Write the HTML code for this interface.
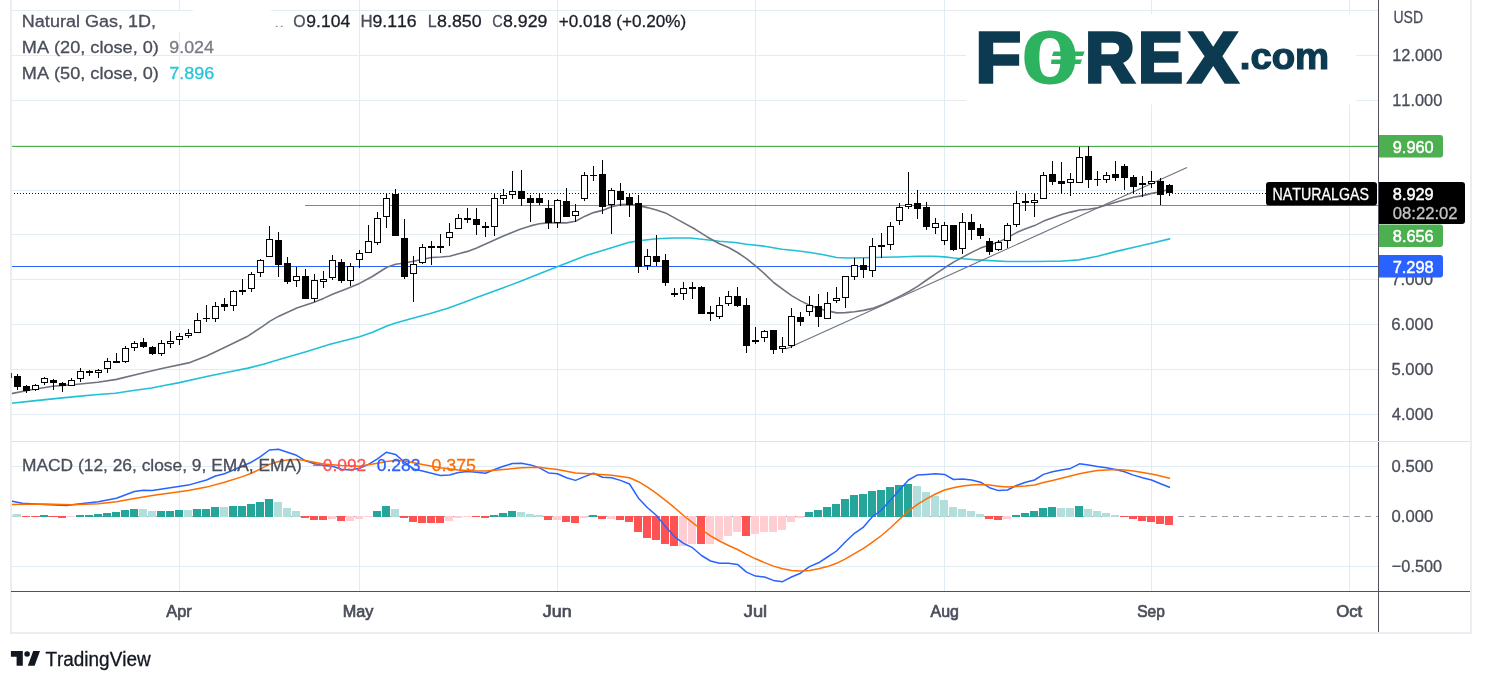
<!DOCTYPE html>
<html><head><meta charset="utf-8"><title>Natural Gas chart</title>
<style>html,body{margin:0;padding:0;background:#fff;overflow:hidden}svg{display:block}text{font-kerning:none}</style></head>
<body>
<svg width="1486" height="686" viewBox="0 0 1486 686" font-family='"Liberation Sans", "DejaVu Sans", sans-serif'>
<rect x="0" y="0" width="1486" height="686" fill="#ffffff"/>
<g shape-rendering="crispEdges">
<rect x="12" y="414" width="1366" height="1" fill="#e1ecf3"/>
<rect x="12" y="369" width="1366" height="1" fill="#e1ecf3"/>
<rect x="12" y="324" width="1366" height="1" fill="#e1ecf3"/>
<rect x="12" y="279" width="1366" height="1" fill="#e1ecf3"/>
<rect x="12" y="234" width="1366" height="1" fill="#e1ecf3"/>
<rect x="12" y="190" width="1366" height="1" fill="#e1ecf3"/>
<rect x="12" y="145" width="1366" height="1" fill="#e1ecf3"/>
<rect x="12" y="100" width="1366" height="1" fill="#e1ecf3"/>
<rect x="12" y="55" width="1366" height="1" fill="#e1ecf3"/>
<rect x="12" y="10" width="1366" height="1" fill="#e1ecf3"/>
<rect x="12" y="466" width="1366" height="1" fill="#e1ecf3"/>
<rect x="12" y="566" width="1366" height="1" fill="#e1ecf3"/>
<rect x="179" y="0" width="1" height="441" fill="#e1ecf3"/>
<rect x="179" y="442" width="1" height="149" fill="#e1ecf3"/>
<rect x="359" y="0" width="1" height="441" fill="#e1ecf3"/>
<rect x="359" y="442" width="1" height="149" fill="#e1ecf3"/>
<rect x="557" y="0" width="1" height="441" fill="#e1ecf3"/>
<rect x="557" y="442" width="1" height="149" fill="#e1ecf3"/>
<rect x="755" y="0" width="1" height="441" fill="#e1ecf3"/>
<rect x="755" y="442" width="1" height="149" fill="#e1ecf3"/>
<rect x="944" y="0" width="1" height="441" fill="#e1ecf3"/>
<rect x="944" y="442" width="1" height="149" fill="#e1ecf3"/>
<rect x="1151" y="0" width="1" height="441" fill="#e1ecf3"/>
<rect x="1151" y="442" width="1" height="149" fill="#e1ecf3"/>
<rect x="1349" y="0" width="1" height="441" fill="#e1ecf3"/>
<rect x="1349" y="442" width="1" height="149" fill="#e1ecf3"/>
</g>
<rect x="160" y="11" width="112" height="21" fill="#ffffff"/>
<rect x="193" y="9" width="78" height="3" fill="#ffffff"/>
<rect x="966" y="14" width="390" height="90.5" fill="#ffffff"/>
<g shape-rendering="crispEdges">
<rect x="12" y="146" width="1366" height="1" fill="#4caf50"/>
<rect x="305" y="205" width="1073" height="1" fill="#4caf50"/>
<rect x="12" y="266" width="1366" height="1" fill="#2962ff"/>
</g>
<line x1="11" y1="193.5" x2="1378" y2="193.5" stroke="#1a1a1a" stroke-width="1" stroke-dasharray="1 2" shape-rendering="crispEdges"/>
<line x1="12" y1="516.5" x2="1378" y2="516.5" stroke="#9aa0ab" stroke-width="1" stroke-dasharray="6 5" shape-rendering="crispEdges"/>
<g shape-rendering="crispEdges">
<rect x="13" y="514" width="8" height="3" fill="#b2dfdb"/>
<rect x="22" y="516" width="8" height="1" fill="#ff5252"/>
<rect x="31" y="516" width="8" height="1" fill="#ff5252"/>
<rect x="40" y="515" width="8" height="2" fill="#26a69a"/>
<rect x="49" y="516" width="8" height="1" fill="#ff5252"/>
<rect x="58" y="516" width="8" height="2" fill="#ff5252"/>
<rect x="67" y="516" width="8" height="1" fill="#ffcdd2"/>
<rect x="76" y="515" width="8" height="2" fill="#26a69a"/>
<rect x="85" y="515" width="8" height="2" fill="#26a69a"/>
<rect x="94" y="514" width="8" height="3" fill="#26a69a"/>
<rect x="103" y="513" width="8" height="4" fill="#26a69a"/>
<rect x="112" y="512" width="8" height="5" fill="#26a69a"/>
<rect x="121" y="510" width="8" height="7" fill="#26a69a"/>
<rect x="130" y="509" width="8" height="8" fill="#26a69a"/>
<rect x="139" y="509" width="8" height="8" fill="#b2dfdb"/>
<rect x="148" y="511" width="8" height="6" fill="#b2dfdb"/>
<rect x="157" y="511" width="8" height="6" fill="#26a69a"/>
<rect x="166" y="511" width="8" height="6" fill="#26a69a"/>
<rect x="175" y="510" width="8" height="7" fill="#26a69a"/>
<rect x="184" y="510" width="8" height="7" fill="#b2dfdb"/>
<rect x="193" y="509" width="8" height="8" fill="#26a69a"/>
<rect x="202" y="509" width="8" height="8" fill="#26a69a"/>
<rect x="211" y="507" width="8" height="10" fill="#26a69a"/>
<rect x="220" y="507" width="8" height="10" fill="#b2dfdb"/>
<rect x="229" y="506" width="8" height="11" fill="#26a69a"/>
<rect x="238" y="506" width="8" height="11" fill="#26a69a"/>
<rect x="247" y="504" width="8" height="13" fill="#26a69a"/>
<rect x="256" y="502" width="8" height="15" fill="#26a69a"/>
<rect x="265" y="499" width="8" height="18" fill="#26a69a"/>
<rect x="274" y="502" width="8" height="15" fill="#b2dfdb"/>
<rect x="283" y="508" width="8" height="9" fill="#b2dfdb"/>
<rect x="292" y="511" width="8" height="6" fill="#b2dfdb"/>
<rect x="301" y="516" width="8" height="2" fill="#ff5252"/>
<rect x="310" y="516" width="8" height="4" fill="#ff5252"/>
<rect x="319" y="516" width="8" height="4" fill="#ff5252"/>
<rect x="328" y="516" width="8" height="3" fill="#ffcdd2"/>
<rect x="337" y="516" width="8" height="5" fill="#ff5252"/>
<rect x="346" y="516" width="8" height="5" fill="#ffcdd2"/>
<rect x="355" y="516" width="8" height="3" fill="#ffcdd2"/>
<rect x="364" y="516" width="8" height="1" fill="#ffcdd2"/>
<rect x="373" y="511" width="8" height="6" fill="#26a69a"/>
<rect x="382" y="506" width="8" height="11" fill="#26a69a"/>
<rect x="391" y="509" width="8" height="8" fill="#b2dfdb"/>
<rect x="400" y="516" width="8" height="2" fill="#ff5252"/>
<rect x="409" y="516" width="8" height="6" fill="#ff5252"/>
<rect x="418" y="516" width="8" height="7" fill="#ff5252"/>
<rect x="427" y="516" width="8" height="7" fill="#ff5252"/>
<rect x="436" y="516" width="8" height="7" fill="#ff5252"/>
<rect x="445" y="516" width="8" height="5" fill="#ffcdd2"/>
<rect x="454" y="516" width="8" height="2" fill="#ffcdd2"/>
<rect x="463" y="516" width="8" height="1" fill="#ffcdd2"/>
<rect x="472" y="516" width="8" height="1" fill="#ff5252"/>
<rect x="481" y="516" width="8" height="2" fill="#ff5252"/>
<rect x="490" y="515" width="8" height="2" fill="#26a69a"/>
<rect x="499" y="513" width="8" height="4" fill="#26a69a"/>
<rect x="508" y="511" width="8" height="6" fill="#26a69a"/>
<rect x="517" y="512" width="8" height="5" fill="#b2dfdb"/>
<rect x="526" y="514" width="8" height="3" fill="#b2dfdb"/>
<rect x="535" y="515" width="8" height="2" fill="#b2dfdb"/>
<rect x="544" y="516" width="8" height="4" fill="#ff5252"/>
<rect x="553" y="516" width="8" height="4" fill="#ffcdd2"/>
<rect x="562" y="516" width="8" height="6" fill="#ff5252"/>
<rect x="571" y="516" width="8" height="7" fill="#ff5252"/>
<rect x="580" y="516" width="8" height="2" fill="#ffcdd2"/>
<rect x="589" y="515" width="8" height="2" fill="#26a69a"/>
<rect x="598" y="516" width="8" height="3" fill="#ff5252"/>
<rect x="607" y="516" width="8" height="3" fill="#ffcdd2"/>
<rect x="616" y="516" width="8" height="4" fill="#ff5252"/>
<rect x="625" y="516" width="8" height="6" fill="#ff5252"/>
<rect x="634" y="516" width="8" height="16" fill="#ff5252"/>
<rect x="643" y="516" width="8" height="22" fill="#ff5252"/>
<rect x="652" y="516" width="8" height="24" fill="#ff5252"/>
<rect x="661" y="516" width="8" height="28" fill="#ff5252"/>
<rect x="670" y="516" width="8" height="30" fill="#ff5252"/>
<rect x="679" y="516" width="8" height="30" fill="#ffcdd2"/>
<rect x="688" y="516" width="8" height="28" fill="#ffcdd2"/>
<rect x="697" y="516" width="8" height="28" fill="#ff5252"/>
<rect x="706" y="516" width="8" height="28" fill="#ffcdd2"/>
<rect x="715" y="516" width="8" height="24" fill="#ffcdd2"/>
<rect x="724" y="516" width="8" height="20" fill="#ffcdd2"/>
<rect x="733" y="516" width="8" height="16" fill="#ffcdd2"/>
<rect x="742" y="516" width="8" height="20" fill="#ff5252"/>
<rect x="751" y="516" width="8" height="18" fill="#ffcdd2"/>
<rect x="760" y="516" width="8" height="16" fill="#ffcdd2"/>
<rect x="769" y="516" width="8" height="16" fill="#ffcdd2"/>
<rect x="778" y="516" width="8" height="14" fill="#ffcdd2"/>
<rect x="787" y="516" width="8" height="6" fill="#ffcdd2"/>
<rect x="796" y="516" width="8" height="2" fill="#ffcdd2"/>
<rect x="805" y="512" width="8" height="5" fill="#26a69a"/>
<rect x="814" y="510" width="8" height="7" fill="#26a69a"/>
<rect x="823" y="507" width="8" height="10" fill="#26a69a"/>
<rect x="832" y="504" width="8" height="13" fill="#26a69a"/>
<rect x="841" y="499" width="8" height="18" fill="#26a69a"/>
<rect x="850" y="495" width="8" height="22" fill="#26a69a"/>
<rect x="859" y="494" width="8" height="23" fill="#26a69a"/>
<rect x="868" y="491" width="8" height="26" fill="#26a69a"/>
<rect x="877" y="490" width="8" height="27" fill="#26a69a"/>
<rect x="886" y="487" width="8" height="30" fill="#26a69a"/>
<rect x="895" y="485" width="8" height="32" fill="#26a69a"/>
<rect x="904" y="484" width="8" height="33" fill="#26a69a"/>
<rect x="913" y="486" width="8" height="31" fill="#b2dfdb"/>
<rect x="922" y="492" width="8" height="25" fill="#b2dfdb"/>
<rect x="931" y="496" width="8" height="21" fill="#b2dfdb"/>
<rect x="940" y="500" width="8" height="17" fill="#b2dfdb"/>
<rect x="949" y="507" width="8" height="10" fill="#b2dfdb"/>
<rect x="958" y="509" width="8" height="8" fill="#b2dfdb"/>
<rect x="967" y="511" width="8" height="6" fill="#b2dfdb"/>
<rect x="976" y="514" width="8" height="3" fill="#b2dfdb"/>
<rect x="985" y="516" width="8" height="3" fill="#ff5252"/>
<rect x="994" y="516" width="8" height="4" fill="#ff5252"/>
<rect x="1003" y="516" width="8" height="3" fill="#ffcdd2"/>
<rect x="1012" y="515" width="8" height="2" fill="#26a69a"/>
<rect x="1021" y="513" width="8" height="4" fill="#26a69a"/>
<rect x="1030" y="511" width="8" height="6" fill="#26a69a"/>
<rect x="1039" y="508" width="8" height="9" fill="#26a69a"/>
<rect x="1048" y="507" width="8" height="10" fill="#26a69a"/>
<rect x="1057" y="508" width="8" height="9" fill="#b2dfdb"/>
<rect x="1066" y="508" width="8" height="9" fill="#b2dfdb"/>
<rect x="1075" y="506" width="8" height="11" fill="#26a69a"/>
<rect x="1084" y="509" width="8" height="8" fill="#b2dfdb"/>
<rect x="1093" y="511" width="8" height="6" fill="#b2dfdb"/>
<rect x="1102" y="513" width="8" height="4" fill="#b2dfdb"/>
<rect x="1111" y="515" width="8" height="2" fill="#b2dfdb"/>
<rect x="1120" y="516" width="8" height="1" fill="#ff5252"/>
<rect x="1129" y="516" width="8" height="3" fill="#ff5252"/>
<rect x="1138" y="516" width="8" height="5" fill="#ff5252"/>
<rect x="1147" y="516" width="8" height="6" fill="#ff5252"/>
<rect x="1156" y="516" width="8" height="8" fill="#ff5252"/>
<rect x="1165" y="516" width="8" height="9" fill="#ff5252"/>
<rect x="12" y="515" width="1" height="2" fill="#b2dfdb"/>
</g>
<polyline points="11.3,403.3 31.3,401.1 52.6,398.9 75.2,396.6 97.7,394.5 115.3,393.2 131.6,390.7 151.6,388 162.9,385.7 179.4,382.6 206.6,376.5 233.6,371 248,368.1 264.2,364 280.1,359.3 306.8,351.5 330.1,344.3 359.5,336.8 371.9,332.6 386.9,325.9 395.6,323.1 413.6,318.1 430.3,313.4 447,308.4 463.6,302.6 478,297.1 500,289 520,281.5 540,273.5 564.3,264 586.8,255.3 606.7,249.2 628.4,242.5 638.6,240.8 656.8,238.7 673.4,238 690.1,238 706.8,239.7 719.5,241.3 735.2,242.5 746.5,244.2 764.6,246.2 781.9,249.2 796.8,250.8 810.1,252.5 823.5,254.7 836.5,257.5 846.8,258 863.5,257.8 883.4,257.2 896.9,257 916.8,256.3 933.4,256.2 944.6,256.9 953.6,258 962.7,258.8 980.5,260.1 1007.5,261.5 1034.6,261.5 1052.6,261.3 1060,261.3 1078.8,259.9 1097.6,256.2 1116.4,251.4 1135.2,247 1151.5,243.3 1169.6,238.9" fill="none" stroke="#20c0d6" stroke-width="1.6" stroke-linejoin="round" stroke-linecap="round"/>
<polyline points="11.3,393.6 31.3,389.8 52.6,386.3 75.2,384.5 97.7,382.3 116.5,379.4 141.6,373.2 162.9,368.2 188.6,362.9 206.6,355.9 224.5,347.6 246.7,336.8 263.4,325.9 269.6,321.4 278.4,316.4 296.8,308.1 313.4,302.6 323.5,298.4 332.5,294.2 346.8,288.7 359.5,283.4 371.9,276.7 386.9,267.2 395.6,264.2 404.6,263 413.6,261.3 422.6,259.2 431.6,257.5 440.6,257 449.6,256.3 458.6,253.7 467.6,251.4 476.7,247.9 486.7,243.5 503.4,235.9 520.1,229.3 530.4,225.9 539.4,223.8 548.4,222.9 557.5,222.6 566.5,222.9 575.5,221.3 584.5,216.4 593.5,212.6 602.5,210.4 611.5,206.7 620.5,204.6 629.5,204.2 638.6,205.6 647.4,207.6 656.4,210.1 665.4,212.9 678.6,220.1 695.3,229.3 706.8,236.7 719.5,243.7 728.5,247.5 737.5,252.5 746.5,258.7 755.5,265.8 764.6,273.8 773.6,282.5 782.6,289.2 791.6,295.6 800.6,300.9 809.6,305.2 818.6,308.4 827.6,310.9 836.7,312.9 845.5,312.6 854.5,311.7 863.5,310.4 872.5,308.4 881.5,305.1 890.5,300.9 899.6,296.4 908.6,291.7 917.6,286.4 926.6,280 935.6,273.9 944.6,267.8 953.6,262.1 962.7,257.1 971.7,252.4 980.5,248.1 989.5,245.1 998.5,242.1 1007.5,237.6 1016.6,232.6 1025.6,228.8 1034.6,225.6 1043.6,221.1 1052.6,217.8 1061.6,214.6 1070.6,212.1 1079.6,210 1088.6,209.2 1097.6,207.8 1106.6,205.1 1115.6,202.3 1124.6,199.8 1133.6,197.3 1142.7,195.6 1151.7,193.4 1160.5,191.8 1169.5,189.2" fill="none" stroke="#70737f" stroke-width="1.6" stroke-linejoin="round" stroke-linecap="round"/>
<line x1="786" y1="349" x2="1187" y2="167.5" stroke="#70737f" stroke-width="1.1"/>
<g shape-rendering="crispEdges">
<rect x="17" y="374" width="1" height="16" fill="#000"/>
<rect x="14" y="376" width="7" height="11" fill="#000"/>
<rect x="26" y="385" width="1" height="8" fill="#000"/>
<rect x="23" y="386" width="7" height="5" fill="#000"/>
<rect x="35" y="384" width="1" height="7" fill="#000"/>
<rect x="32" y="385" width="7" height="5" fill="#000"/>
<rect x="33" y="386" width="5" height="3" fill="#fff"/>
<rect x="44" y="377" width="1" height="8" fill="#000"/>
<rect x="41" y="378" width="7" height="5" fill="#000"/>
<rect x="42" y="379" width="5" height="3" fill="#fff"/>
<rect x="53" y="379" width="1" height="11" fill="#000"/>
<rect x="50" y="380" width="7" height="3" fill="#000"/>
<rect x="62" y="382" width="1" height="10" fill="#000"/>
<rect x="59" y="383" width="7" height="3" fill="#000"/>
<rect x="71" y="378" width="1" height="8" fill="#000"/>
<rect x="68" y="380" width="7" height="6" fill="#000"/>
<rect x="69" y="381" width="5" height="4" fill="#fff"/>
<rect x="80" y="368" width="1" height="14" fill="#000"/>
<rect x="77" y="371" width="7" height="8" fill="#000"/>
<rect x="78" y="372" width="5" height="6" fill="#fff"/>
<rect x="89" y="370" width="1" height="6" fill="#000"/>
<rect x="86" y="371" width="7" height="2" fill="#000"/>
<rect x="98" y="369" width="1" height="9" fill="#000"/>
<rect x="95" y="370" width="7" height="3" fill="#000"/>
<rect x="96" y="371" width="5" height="1" fill="#fff"/>
<rect x="107" y="358" width="1" height="15" fill="#000"/>
<rect x="104" y="361" width="7" height="8" fill="#000"/>
<rect x="105" y="362" width="5" height="6" fill="#fff"/>
<rect x="116" y="353" width="1" height="10" fill="#000"/>
<rect x="113" y="361" width="7" height="2" fill="#000"/>
<rect x="125" y="346" width="1" height="17" fill="#000"/>
<rect x="122" y="348" width="7" height="14" fill="#000"/>
<rect x="123" y="349" width="5" height="12" fill="#fff"/>
<rect x="134" y="341" width="1" height="10" fill="#000"/>
<rect x="131" y="343" width="7" height="5" fill="#000"/>
<rect x="132" y="344" width="5" height="3" fill="#fff"/>
<rect x="143" y="338" width="1" height="10" fill="#000"/>
<rect x="140" y="342" width="7" height="5" fill="#000"/>
<rect x="152" y="346" width="1" height="9" fill="#000"/>
<rect x="149" y="347" width="7" height="7" fill="#000"/>
<rect x="161" y="340" width="1" height="16" fill="#000"/>
<rect x="158" y="343" width="7" height="11" fill="#000"/>
<rect x="159" y="344" width="5" height="9" fill="#fff"/>
<rect x="170" y="331" width="1" height="17" fill="#000"/>
<rect x="167" y="341" width="7" height="3" fill="#000"/>
<rect x="168" y="342" width="5" height="1" fill="#fff"/>
<rect x="179" y="333" width="1" height="12" fill="#000"/>
<rect x="176" y="336" width="7" height="4" fill="#000"/>
<rect x="177" y="337" width="5" height="2" fill="#fff"/>
<rect x="188" y="329" width="1" height="9" fill="#000"/>
<rect x="185" y="333" width="7" height="3" fill="#000"/>
<rect x="186" y="334" width="5" height="1" fill="#fff"/>
<rect x="197" y="313" width="1" height="19" fill="#000"/>
<rect x="194" y="320" width="7" height="13" fill="#000"/>
<rect x="195" y="321" width="5" height="11" fill="#fff"/>
<rect x="206" y="305" width="1" height="17" fill="#000"/>
<rect x="203" y="318" width="7" height="1" fill="#000"/>
<rect x="215" y="302" width="1" height="20" fill="#000"/>
<rect x="212" y="306" width="7" height="13" fill="#000"/>
<rect x="213" y="307" width="5" height="11" fill="#fff"/>
<rect x="224" y="298" width="1" height="13" fill="#000"/>
<rect x="221" y="304" width="7" height="3" fill="#000"/>
<rect x="233" y="290" width="1" height="21" fill="#000"/>
<rect x="230" y="291" width="7" height="15" fill="#000"/>
<rect x="231" y="292" width="5" height="13" fill="#fff"/>
<rect x="242" y="279" width="1" height="16" fill="#000"/>
<rect x="239" y="290" width="7" height="2" fill="#000"/>
<rect x="251" y="272" width="1" height="20" fill="#000"/>
<rect x="248" y="274" width="7" height="15" fill="#000"/>
<rect x="249" y="275" width="5" height="13" fill="#fff"/>
<rect x="260" y="259" width="1" height="18" fill="#000"/>
<rect x="257" y="260" width="7" height="13" fill="#000"/>
<rect x="258" y="261" width="5" height="11" fill="#fff"/>
<rect x="269" y="226" width="1" height="31" fill="#000"/>
<rect x="266" y="239" width="7" height="18" fill="#000"/>
<rect x="267" y="240" width="5" height="16" fill="#fff"/>
<rect x="278" y="232" width="1" height="45" fill="#000"/>
<rect x="275" y="240" width="7" height="25" fill="#000"/>
<rect x="287" y="257" width="1" height="27" fill="#000"/>
<rect x="284" y="263" width="7" height="19" fill="#000"/>
<rect x="296" y="267" width="1" height="20" fill="#000"/>
<rect x="293" y="276" width="7" height="5" fill="#000"/>
<rect x="294" y="277" width="5" height="3" fill="#fff"/>
<rect x="305" y="269" width="1" height="30" fill="#000"/>
<rect x="302" y="276" width="7" height="23" fill="#000"/>
<rect x="314" y="274" width="1" height="28" fill="#000"/>
<rect x="311" y="280" width="7" height="19" fill="#000"/>
<rect x="312" y="281" width="5" height="17" fill="#fff"/>
<rect x="323" y="271" width="1" height="17" fill="#000"/>
<rect x="320" y="279" width="7" height="3" fill="#000"/>
<rect x="321" y="280" width="5" height="1" fill="#fff"/>
<rect x="332" y="255" width="1" height="25" fill="#000"/>
<rect x="329" y="260" width="7" height="18" fill="#000"/>
<rect x="330" y="261" width="5" height="16" fill="#fff"/>
<rect x="341" y="259" width="1" height="24" fill="#000"/>
<rect x="338" y="262" width="7" height="19" fill="#000"/>
<rect x="350" y="263" width="1" height="23" fill="#000"/>
<rect x="347" y="266" width="7" height="15" fill="#000"/>
<rect x="348" y="267" width="5" height="13" fill="#fff"/>
<rect x="359" y="250" width="1" height="18" fill="#000"/>
<rect x="356" y="253" width="7" height="7" fill="#000"/>
<rect x="357" y="254" width="5" height="5" fill="#fff"/>
<rect x="368" y="225" width="1" height="28" fill="#000"/>
<rect x="365" y="241" width="7" height="12" fill="#000"/>
<rect x="366" y="242" width="5" height="10" fill="#fff"/>
<rect x="377" y="212" width="1" height="33" fill="#000"/>
<rect x="374" y="218" width="7" height="25" fill="#000"/>
<rect x="375" y="219" width="5" height="23" fill="#fff"/>
<rect x="386" y="193" width="1" height="35" fill="#000"/>
<rect x="383" y="198" width="7" height="19" fill="#000"/>
<rect x="384" y="199" width="5" height="17" fill="#fff"/>
<rect x="395" y="189" width="1" height="47" fill="#000"/>
<rect x="392" y="194" width="7" height="42" fill="#000"/>
<rect x="404" y="219" width="1" height="60" fill="#000"/>
<rect x="401" y="238" width="7" height="39" fill="#000"/>
<rect x="413" y="256" width="1" height="46" fill="#000"/>
<rect x="410" y="264" width="7" height="10" fill="#000"/>
<rect x="411" y="265" width="5" height="8" fill="#fff"/>
<rect x="422" y="244" width="1" height="20" fill="#000"/>
<rect x="419" y="247" width="7" height="16" fill="#000"/>
<rect x="420" y="248" width="5" height="14" fill="#fff"/>
<rect x="431" y="241" width="1" height="24" fill="#000"/>
<rect x="428" y="246" width="7" height="2" fill="#000"/>
<rect x="440" y="234" width="1" height="19" fill="#000"/>
<rect x="437" y="246" width="7" height="2" fill="#000"/>
<rect x="449" y="223" width="1" height="23" fill="#000"/>
<rect x="446" y="232" width="7" height="6" fill="#000"/>
<rect x="447" y="233" width="5" height="4" fill="#fff"/>
<rect x="458" y="214" width="1" height="15" fill="#000"/>
<rect x="455" y="218" width="7" height="11" fill="#000"/>
<rect x="456" y="219" width="5" height="9" fill="#fff"/>
<rect x="467" y="208" width="1" height="15" fill="#000"/>
<rect x="464" y="218" width="7" height="2" fill="#000"/>
<rect x="476" y="208" width="1" height="27" fill="#000"/>
<rect x="473" y="219" width="7" height="6" fill="#000"/>
<rect x="485" y="222" width="1" height="15" fill="#000"/>
<rect x="482" y="226" width="7" height="2" fill="#000"/>
<rect x="494" y="193" width="1" height="43" fill="#000"/>
<rect x="491" y="198" width="7" height="29" fill="#000"/>
<rect x="492" y="199" width="5" height="27" fill="#fff"/>
<rect x="503" y="189" width="1" height="15" fill="#000"/>
<rect x="500" y="195" width="7" height="4" fill="#000"/>
<rect x="501" y="196" width="5" height="2" fill="#fff"/>
<rect x="512" y="171" width="1" height="28" fill="#000"/>
<rect x="509" y="191" width="7" height="4" fill="#000"/>
<rect x="510" y="192" width="5" height="2" fill="#fff"/>
<rect x="521" y="170" width="1" height="36" fill="#000"/>
<rect x="518" y="191" width="7" height="8" fill="#000"/>
<rect x="530" y="195" width="1" height="27" fill="#000"/>
<rect x="527" y="198" width="7" height="5" fill="#000"/>
<rect x="539" y="193" width="1" height="12" fill="#000"/>
<rect x="536" y="198" width="7" height="5" fill="#000"/>
<rect x="548" y="200" width="1" height="29" fill="#000"/>
<rect x="545" y="208" width="7" height="15" fill="#000"/>
<rect x="557" y="199" width="1" height="29" fill="#000"/>
<rect x="554" y="200" width="7" height="23" fill="#000"/>
<rect x="555" y="201" width="5" height="21" fill="#fff"/>
<rect x="566" y="188" width="1" height="29" fill="#000"/>
<rect x="563" y="201" width="7" height="16" fill="#000"/>
<rect x="575" y="204" width="1" height="18" fill="#000"/>
<rect x="572" y="211" width="7" height="5" fill="#000"/>
<rect x="573" y="212" width="5" height="3" fill="#fff"/>
<rect x="584" y="172" width="1" height="29" fill="#000"/>
<rect x="581" y="175" width="7" height="24" fill="#000"/>
<rect x="582" y="176" width="5" height="22" fill="#fff"/>
<rect x="593" y="166" width="1" height="15" fill="#000"/>
<rect x="590" y="175" width="7" height="1" fill="#000"/>
<rect x="602" y="160" width="1" height="54" fill="#000"/>
<rect x="599" y="174" width="7" height="33" fill="#000"/>
<rect x="611" y="188" width="1" height="46" fill="#000"/>
<rect x="608" y="190" width="7" height="15" fill="#000"/>
<rect x="609" y="191" width="5" height="13" fill="#fff"/>
<rect x="620" y="183" width="1" height="23" fill="#000"/>
<rect x="617" y="191" width="7" height="9" fill="#000"/>
<rect x="629" y="193" width="1" height="24" fill="#000"/>
<rect x="626" y="197" width="7" height="8" fill="#000"/>
<rect x="638" y="195" width="1" height="78" fill="#000"/>
<rect x="635" y="203" width="7" height="64" fill="#000"/>
<rect x="647" y="249" width="1" height="21" fill="#000"/>
<rect x="644" y="256" width="7" height="10" fill="#000"/>
<rect x="645" y="257" width="5" height="8" fill="#fff"/>
<rect x="656" y="235" width="1" height="31" fill="#000"/>
<rect x="653" y="256" width="7" height="6" fill="#000"/>
<rect x="665" y="254" width="1" height="32" fill="#000"/>
<rect x="662" y="260" width="7" height="23" fill="#000"/>
<rect x="674" y="288" width="1" height="9" fill="#000"/>
<rect x="671" y="293" width="7" height="2" fill="#000"/>
<rect x="683" y="282" width="1" height="18" fill="#000"/>
<rect x="680" y="288" width="7" height="6" fill="#000"/>
<rect x="681" y="289" width="5" height="4" fill="#fff"/>
<rect x="692" y="282" width="1" height="17" fill="#000"/>
<rect x="689" y="287" width="7" height="2" fill="#000"/>
<rect x="701" y="286" width="1" height="28" fill="#000"/>
<rect x="698" y="287" width="7" height="27" fill="#000"/>
<rect x="710" y="306" width="1" height="15" fill="#000"/>
<rect x="707" y="312" width="7" height="2" fill="#000"/>
<rect x="719" y="297" width="1" height="22" fill="#000"/>
<rect x="716" y="305" width="7" height="12" fill="#000"/>
<rect x="717" y="306" width="5" height="10" fill="#fff"/>
<rect x="728" y="291" width="1" height="15" fill="#000"/>
<rect x="725" y="296" width="7" height="8" fill="#000"/>
<rect x="726" y="297" width="5" height="6" fill="#fff"/>
<rect x="737" y="287" width="1" height="20" fill="#000"/>
<rect x="734" y="296" width="7" height="10" fill="#000"/>
<rect x="746" y="298" width="1" height="55" fill="#000"/>
<rect x="743" y="305" width="7" height="41" fill="#000"/>
<rect x="755" y="327" width="1" height="17" fill="#000"/>
<rect x="752" y="340" width="7" height="2" fill="#000"/>
<rect x="764" y="330" width="1" height="12" fill="#000"/>
<rect x="761" y="331" width="7" height="7" fill="#000"/>
<rect x="762" y="332" width="5" height="5" fill="#fff"/>
<rect x="773" y="330" width="1" height="24" fill="#000"/>
<rect x="770" y="330" width="7" height="20" fill="#000"/>
<rect x="782" y="337" width="1" height="16" fill="#000"/>
<rect x="779" y="346" width="7" height="3" fill="#000"/>
<rect x="780" y="347" width="5" height="1" fill="#fff"/>
<rect x="791" y="308" width="1" height="40" fill="#000"/>
<rect x="788" y="316" width="7" height="30" fill="#000"/>
<rect x="789" y="317" width="5" height="28" fill="#fff"/>
<rect x="800" y="312" width="1" height="14" fill="#000"/>
<rect x="797" y="317" width="7" height="5" fill="#000"/>
<rect x="809" y="296" width="1" height="20" fill="#000"/>
<rect x="806" y="305" width="7" height="7" fill="#000"/>
<rect x="807" y="306" width="5" height="5" fill="#fff"/>
<rect x="818" y="294" width="1" height="33" fill="#000"/>
<rect x="815" y="306" width="7" height="11" fill="#000"/>
<rect x="827" y="292" width="1" height="27" fill="#000"/>
<rect x="824" y="303" width="7" height="16" fill="#000"/>
<rect x="825" y="304" width="5" height="14" fill="#fff"/>
<rect x="836" y="287" width="1" height="16" fill="#000"/>
<rect x="833" y="298" width="7" height="3" fill="#000"/>
<rect x="834" y="299" width="5" height="1" fill="#fff"/>
<rect x="845" y="276" width="1" height="32" fill="#000"/>
<rect x="842" y="276" width="7" height="22" fill="#000"/>
<rect x="843" y="277" width="5" height="20" fill="#fff"/>
<rect x="854" y="258" width="1" height="22" fill="#000"/>
<rect x="851" y="265" width="7" height="12" fill="#000"/>
<rect x="852" y="266" width="5" height="10" fill="#fff"/>
<rect x="863" y="258" width="1" height="20" fill="#000"/>
<rect x="860" y="265" width="7" height="5" fill="#000"/>
<rect x="872" y="238" width="1" height="39" fill="#000"/>
<rect x="869" y="246" width="7" height="25" fill="#000"/>
<rect x="870" y="247" width="5" height="23" fill="#fff"/>
<rect x="881" y="233" width="1" height="25" fill="#000"/>
<rect x="878" y="245" width="7" height="2" fill="#000"/>
<rect x="890" y="222" width="1" height="28" fill="#000"/>
<rect x="887" y="226" width="7" height="19" fill="#000"/>
<rect x="888" y="227" width="5" height="17" fill="#fff"/>
<rect x="899" y="203" width="1" height="22" fill="#000"/>
<rect x="896" y="207" width="7" height="14" fill="#000"/>
<rect x="897" y="208" width="5" height="12" fill="#fff"/>
<rect x="908" y="172" width="1" height="37" fill="#000"/>
<rect x="905" y="204" width="7" height="3" fill="#000"/>
<rect x="906" y="205" width="5" height="1" fill="#fff"/>
<rect x="917" y="190" width="1" height="29" fill="#000"/>
<rect x="914" y="203" width="7" height="6" fill="#000"/>
<rect x="926" y="202" width="1" height="28" fill="#000"/>
<rect x="923" y="207" width="7" height="20" fill="#000"/>
<rect x="935" y="218" width="1" height="16" fill="#000"/>
<rect x="932" y="223" width="7" height="5" fill="#000"/>
<rect x="933" y="224" width="5" height="3" fill="#fff"/>
<rect x="944" y="222" width="1" height="23" fill="#000"/>
<rect x="941" y="225" width="7" height="16" fill="#000"/>
<rect x="942" y="226" width="5" height="14" fill="#fff"/>
<rect x="953" y="225" width="1" height="26" fill="#000"/>
<rect x="950" y="225" width="7" height="25" fill="#000"/>
<rect x="962" y="213" width="1" height="41" fill="#000"/>
<rect x="959" y="222" width="7" height="27" fill="#000"/>
<rect x="960" y="223" width="5" height="25" fill="#fff"/>
<rect x="971" y="214" width="1" height="26" fill="#000"/>
<rect x="968" y="222" width="7" height="8" fill="#000"/>
<rect x="980" y="224" width="1" height="15" fill="#000"/>
<rect x="977" y="228" width="7" height="8" fill="#000"/>
<rect x="989" y="238" width="1" height="17" fill="#000"/>
<rect x="986" y="241" width="7" height="11" fill="#000"/>
<rect x="998" y="240" width="1" height="11" fill="#000"/>
<rect x="995" y="242" width="7" height="8" fill="#000"/>
<rect x="996" y="243" width="5" height="6" fill="#fff"/>
<rect x="1007" y="223" width="1" height="25" fill="#000"/>
<rect x="1004" y="225" width="7" height="16" fill="#000"/>
<rect x="1005" y="226" width="5" height="14" fill="#fff"/>
<rect x="1016" y="191" width="1" height="36" fill="#000"/>
<rect x="1013" y="203" width="7" height="22" fill="#000"/>
<rect x="1014" y="204" width="5" height="20" fill="#fff"/>
<rect x="1025" y="193" width="1" height="18" fill="#000"/>
<rect x="1022" y="201" width="7" height="2" fill="#000"/>
<rect x="1034" y="193" width="1" height="24" fill="#000"/>
<rect x="1031" y="200" width="7" height="3" fill="#000"/>
<rect x="1032" y="201" width="5" height="1" fill="#fff"/>
<rect x="1043" y="172" width="1" height="27" fill="#000"/>
<rect x="1040" y="175" width="7" height="24" fill="#000"/>
<rect x="1041" y="176" width="5" height="22" fill="#fff"/>
<rect x="1052" y="161" width="1" height="24" fill="#000"/>
<rect x="1049" y="174" width="7" height="8" fill="#000"/>
<rect x="1061" y="162" width="1" height="32" fill="#000"/>
<rect x="1058" y="181" width="7" height="3" fill="#000"/>
<rect x="1070" y="173" width="1" height="23" fill="#000"/>
<rect x="1067" y="179" width="7" height="4" fill="#000"/>
<rect x="1068" y="180" width="5" height="2" fill="#fff"/>
<rect x="1079" y="147" width="1" height="36" fill="#000"/>
<rect x="1076" y="157" width="7" height="26" fill="#000"/>
<rect x="1077" y="158" width="5" height="24" fill="#fff"/>
<rect x="1088" y="146" width="1" height="42" fill="#000"/>
<rect x="1085" y="156" width="7" height="24" fill="#000"/>
<rect x="1097" y="171" width="1" height="15" fill="#000"/>
<rect x="1094" y="179" width="7" height="1" fill="#000"/>
<rect x="1106" y="172" width="1" height="11" fill="#000"/>
<rect x="1103" y="175" width="7" height="5" fill="#000"/>
<rect x="1104" y="176" width="5" height="3" fill="#fff"/>
<rect x="1115" y="161" width="1" height="20" fill="#000"/>
<rect x="1112" y="174" width="7" height="4" fill="#000"/>
<rect x="1124" y="164" width="1" height="26" fill="#000"/>
<rect x="1121" y="166" width="7" height="12" fill="#000"/>
<rect x="1133" y="175" width="1" height="19" fill="#000"/>
<rect x="1130" y="177" width="7" height="10" fill="#000"/>
<rect x="1142" y="176" width="1" height="21" fill="#000"/>
<rect x="1139" y="183" width="7" height="2" fill="#000"/>
<rect x="1151" y="171" width="1" height="17" fill="#000"/>
<rect x="1148" y="181" width="7" height="3" fill="#000"/>
<rect x="1149" y="182" width="5" height="1" fill="#fff"/>
<rect x="1160" y="178" width="1" height="27" fill="#000"/>
<rect x="1157" y="181" width="7" height="14" fill="#000"/>
<rect x="1169" y="184" width="1" height="12" fill="#000"/>
<rect x="1166" y="185" width="7" height="8" fill="#000"/>
</g>
<polyline points="11.1,501.1 22.2,503.3 44.4,504.4 66.6,505.5 80.4,503.7 98.4,501.7 116.4,498.2 134.4,491.5 143.5,490.2 152.3,490.6 170.3,487.7 188.3,485.1 206.5,480 215.4,476 224.5,473.8 233.4,470 242.5,466 251.4,462.2 260.5,456.7 269.4,450 278.5,449.3 287.4,452.2 296.5,455.3 305.5,460.8 314.5,463.7 323.5,465.5 332.5,466.2 341.5,469.3 350.5,470 359.5,468.2 368.5,464.4 377.5,458.9 386.5,452.2 395.5,454.4 404.5,462.2 413.5,468.9 422.5,471.1 431.5,473.3 440.5,475.5 449.5,474.9 458.5,472.6 467.5,471.5 476.5,472.2 485.5,473.3 494.5,469.5 503.5,466.2 512.5,463.5 521.5,463.3 530.5,464.9 539.5,467.8 548.5,472.9 557.5,473.8 566.5,477.8 575.5,480.4 584.5,476.6 593.5,473.3 602.5,477.3 611.5,477.8 620.5,480.4 629.5,484 638.5,498.2 647.5,507.7 656.5,515.5 665.5,526.6 674.5,536.6 683.5,543.3 692.5,547.7 701.5,555.5 710.5,561 719.5,563.3 728.5,563.3 737.5,564.4 746.5,572.1 755.5,576.1 764.5,577 773.5,580.4 782.5,581.7 791.5,577 800.5,573.2 809.5,566.6 818.5,562.8 827.5,557 836.5,551 845.5,541.7 854.5,533.3 863.5,527.1 872.5,516.6 881.5,510 890.5,500 899.5,490 908.5,480 917.5,474.9 926.5,474.4 935.5,473.8 944.5,474.4 953.5,479.5 962.5,478.9 971.5,480 980.5,482.2 989.5,487.7 998.5,490.6 1007.5,490 1016.5,485.5 1025.5,482.2 1034.5,480 1043.5,474.4 1052.5,471.8 1061.5,470 1070.5,468.4 1079.5,463.8 1088.5,465.1 1097.5,466.6 1106.5,467.8 1115.5,469.5 1124.5,471.8 1133.5,475.1 1142.5,477.8 1151.5,480 1160.5,483.7 1169.5,487.3" fill="none" stroke="#2962ff" stroke-width="1.5" stroke-linejoin="round" stroke-linecap="round"/>
<polyline points="11.1,504.4 44.4,504 71.1,504.8 98.4,503.7 116.4,501.7 134.4,498.4 152.3,495.5 170.3,492.9 188.3,490.4 206.5,487.1 224.5,482.2 242.5,476.6 251.4,473.3 260.5,468.9 269.4,464.4 278.5,461.5 287.4,460 296.5,459.5 305.5,460.6 323.5,464 341.5,465.5 359.5,466.2 377.5,463.3 386.5,461.5 395.5,460.4 404.5,461.1 422.5,464.4 440.5,467.8 458.5,470 476.5,471.1 485.5,471.1 503.5,469.5 521.5,467.8 539.5,467.3 548.5,468.4 557.5,469.5 575.5,472.9 593.5,474 611.5,475.2 629.5,477.8 638.5,481.7 647.5,487.1 656.5,493.3 665.5,500.4 674.5,507.7 683.5,515.5 692.5,522.6 701.5,529.5 710.5,535.9 719.5,541 728.5,545.5 737.5,549.5 746.5,554.4 755.5,558.8 764.5,562.6 773.5,566.1 782.5,568.8 791.5,570.4 800.5,571 809.5,570.6 818.5,568.8 827.5,566.6 836.5,563.3 845.5,558.8 854.5,553.7 863.5,548.4 872.5,542.2 881.5,535.5 890.5,527.7 899.5,519.3 908.5,511.1 917.5,504.4 926.5,498.8 935.5,494 944.5,490 953.5,487.7 962.5,486 971.5,484.9 980.5,484.4 989.5,485.1 998.5,486.2 1007.5,487.1 1016.5,486.6 1025.5,486 1034.5,484.9 1043.5,482.6 1052.5,480.4 1061.5,478.2 1070.5,476 1079.5,473.8 1088.5,472 1097.5,470.6 1106.5,470 1115.5,469.5 1124.5,470 1133.5,471.1 1142.5,472.4 1151.5,474 1160.5,476 1169.5,478.2" fill="none" stroke="#ff6d00" stroke-width="1.5" stroke-linejoin="round" stroke-linecap="round"/>
<g shape-rendering="crispEdges">
<rect x="10" y="0" width="2" height="634" fill="#ecedf3"/>
<rect x="1470" y="0" width="2" height="634" fill="#ecedf3"/>
<rect x="10" y="632" width="1462" height="2" fill="#ecedf3"/>
<rect x="12" y="441" width="1458" height="1" fill="#dfe2ec"/>
<rect x="1378" y="0" width="1" height="441" fill="#4f525d"/>
<rect x="1378" y="442" width="1" height="190" fill="#4f525d"/>
<rect x="11" y="591" width="1459" height="1" fill="#4f525d"/>
<rect x="11" y="373" width="1" height="5" fill="#444"/>
</g>
<text x="21.87" y="27" font-size="17.3" font-weight="normal" fill="#4a4e5a" stroke="#4a4e5a" stroke-width="0.3" textLength="134.09" lengthAdjust="spacingAndGlyphs">Natural Gas, 1D,</text>
<text x="274.16" y="27" font-size="11" font-weight="normal" fill="#8a8d96" textLength="9.98" lengthAdjust="spacingAndGlyphs">..</text>
<text x="293.30" y="27" font-size="17.3" font-weight="normal" fill="#4a4e5a" stroke="#4a4e5a" stroke-width="0.3" textLength="12.31" lengthAdjust="spacingAndGlyphs">O</text>
<text x="306.33" y="27" font-size="17.3" font-weight="normal" fill="#1c1f29" stroke="#1c1f29" stroke-width="0.3" textLength="43.83" lengthAdjust="spacingAndGlyphs">9.104</text>
<text x="360.57" y="27" font-size="17.3" font-weight="normal" fill="#4a4e5a" stroke="#4a4e5a" stroke-width="0.3" textLength="12.15" lengthAdjust="spacingAndGlyphs">H</text>
<text x="372.42" y="27" font-size="17.3" font-weight="normal" fill="#1c1f29" stroke="#1c1f29" stroke-width="0.3" textLength="44.20" lengthAdjust="spacingAndGlyphs">9.116</text>
<text x="427.83" y="27" font-size="17.3" font-weight="normal" fill="#4a4e5a" stroke="#4a4e5a" stroke-width="0.3" textLength="8.96" lengthAdjust="spacingAndGlyphs">L</text>
<text x="437.08" y="27" font-size="17.3" font-weight="normal" fill="#1c1f29" stroke="#1c1f29" stroke-width="0.3" textLength="44.57" lengthAdjust="spacingAndGlyphs">8.850</text>
<text x="492.21" y="27" font-size="17.3" font-weight="normal" fill="#4a4e5a" stroke="#4a4e5a" stroke-width="0.3" textLength="10.49" lengthAdjust="spacingAndGlyphs">C</text>
<text x="502.98" y="27" font-size="17.3" font-weight="normal" fill="#1c1f29" stroke="#1c1f29" stroke-width="0.3" textLength="44.41" lengthAdjust="spacingAndGlyphs">8.929</text>
<text x="558.81" y="27" font-size="17.3" font-weight="normal" fill="#1c1f29" stroke="#1c1f29" stroke-width="0.3" textLength="127.50" lengthAdjust="spacingAndGlyphs">+0.018 (+0.20%)</text>
<text x="21.86" y="53" font-size="17.3" font-weight="normal" fill="#4a4e5a" stroke="#4a4e5a" stroke-width="0.3" textLength="137.01" lengthAdjust="spacingAndGlyphs">MA (20, close, 0)</text>
<text x="169.31" y="53" font-size="17.3" font-weight="normal" fill="#787b86" stroke="#787b86" stroke-width="0.3" textLength="44.66" lengthAdjust="spacingAndGlyphs">9.024</text>
<text x="21.86" y="79" font-size="17.3" font-weight="normal" fill="#4a4e5a" stroke="#4a4e5a" stroke-width="0.3" textLength="137.01" lengthAdjust="spacingAndGlyphs">MA (50, close, 0)</text>
<text x="169.23" y="79" font-size="17.3" font-weight="normal" fill="#26c6da" stroke="#26c6da" stroke-width="0.3" textLength="45.01" lengthAdjust="spacingAndGlyphs">7.896</text>
<text x="22.03" y="470.8" font-size="17.3" font-weight="normal" fill="#4a4e5a" stroke="#4a4e5a" stroke-width="0.3" textLength="279.80" lengthAdjust="spacingAndGlyphs">MACD (12, 26, close, 9, EMA, EMA)</text>
<text x="312.61" y="470.8" font-size="17.3" font-weight="normal" fill="#ff5252" stroke="#ff5252" stroke-width="0.3" textLength="53.69" lengthAdjust="spacingAndGlyphs">−0.092</text>
<text x="376.77" y="470.8" font-size="17.3" font-weight="normal" fill="#2962ff" stroke="#2962ff" stroke-width="0.3" textLength="43.75" lengthAdjust="spacingAndGlyphs">0.283</text>
<text x="431.56" y="470.8" font-size="17.3" font-weight="normal" fill="#ff6d00" stroke="#ff6d00" stroke-width="0.3" textLength="44.44" lengthAdjust="spacingAndGlyphs">0.375</text>
<text x="1393.47" y="22.7" font-size="17.3" font-weight="normal" fill="#4a4e5a" stroke="#4a4e5a" stroke-width="0.3" textLength="29.55" lengthAdjust="spacingAndGlyphs">USD</text>
<text x="1392.20" y="61.1" font-size="17.3" font-weight="normal" fill="#4a4e5a" stroke="#4a4e5a" stroke-width="0.3" textLength="50.09" lengthAdjust="spacingAndGlyphs">12.000</text>
<text x="1392.20" y="106.1" font-size="17.3" font-weight="normal" fill="#4a4e5a" stroke="#4a4e5a" stroke-width="0.3" textLength="50.09" lengthAdjust="spacingAndGlyphs">11.000</text>
<text x="1391.29" y="285.1" font-size="17.3" font-weight="normal" fill="#4a4e5a" stroke="#4a4e5a" stroke-width="0.3" textLength="41.91" lengthAdjust="spacingAndGlyphs">7.000</text>
<text x="1391.30" y="330.1" font-size="17.3" font-weight="normal" fill="#4a4e5a" stroke="#4a4e5a" stroke-width="0.3" textLength="41.90" lengthAdjust="spacingAndGlyphs">6.000</text>
<text x="1391.48" y="375.1" font-size="17.3" font-weight="normal" fill="#4a4e5a" stroke="#4a4e5a" stroke-width="0.3" textLength="41.72" lengthAdjust="spacingAndGlyphs">5.000</text>
<text x="1391.77" y="420.1" font-size="17.3" font-weight="normal" fill="#4a4e5a" stroke="#4a4e5a" stroke-width="0.3" textLength="41.43" lengthAdjust="spacingAndGlyphs">4.000</text>
<text x="1391.50" y="472.1" font-size="17.3" font-weight="normal" fill="#4a4e5a" stroke="#4a4e5a" stroke-width="0.3" textLength="41.70" lengthAdjust="spacingAndGlyphs">0.500</text>
<text x="1391.50" y="522.1" font-size="17.3" font-weight="normal" fill="#4a4e5a" stroke="#4a4e5a" stroke-width="0.3" textLength="41.70" lengthAdjust="spacingAndGlyphs">0.000</text>
<text x="1391.86" y="572.1" font-size="17.3" font-weight="normal" fill="#4a4e5a" stroke="#4a4e5a" stroke-width="0.3" textLength="50.18" lengthAdjust="spacingAndGlyphs">−0.500</text>
<path d="M1379,135h61a3,3 0 0 1 3,3v16.5a3,3 0 0 1 -3,3h-61z" fill="#4caf50"/>
<text x="1392.79" y="153" font-size="17.3" font-weight="normal" fill="#fff" stroke="#fff" stroke-width="0.5" textLength="40.80" lengthAdjust="spacingAndGlyphs">9.960</text>
<path d="M1379,224.5h61a3,3 0 0 1 3,3v16.5a3,3 0 0 1 -3,3h-61z" fill="#4caf50"/>
<text x="1392.84" y="241.5" font-size="17.3" font-weight="normal" fill="#fff" stroke="#fff" stroke-width="0.5" textLength="40.83" lengthAdjust="spacingAndGlyphs">8.656</text>
<path d="M1379,255h61a3,3 0 0 1 3,3v16.5a3,3 0 0 1 -3,3h-61z" fill="#2962ff"/>
<text x="1392.71" y="273" font-size="17.3" font-weight="normal" fill="#fff" stroke="#fff" stroke-width="0.5" textLength="40.95" lengthAdjust="spacingAndGlyphs">7.298</text>
<path d="M1379,182h83a3,3 0 0 1 3,3v36a3,3 0 0 1 -3,3h-83z" fill="#000"/>
<text x="1392.84" y="200.2" font-size="17.3" font-weight="normal" fill="#fff" stroke="#fff" stroke-width="0.5" textLength="40.88" lengthAdjust="spacingAndGlyphs">8.929</text>
<text x="1392.80" y="219" font-size="17.3" font-weight="normal" fill="#c4c4c4" stroke="#c4c4c4" stroke-width="0.3" textLength="64.79" lengthAdjust="spacingAndGlyphs">08:22:02</text>
<rect x="1266" y="182" width="111" height="23.5" rx="3" fill="#000"/>
<text x="1272.58" y="199.8" font-size="17.3" font-weight="normal" fill="#fff" stroke="#fff" stroke-width="0.3" textLength="96.32" lengthAdjust="spacingAndGlyphs">NATURALGAS</text>
<text x="166.32" y="617.3" font-size="17" font-weight="normal" fill="#4a4e5a" stroke="#4a4e5a" stroke-width="0.7" textLength="25.40" lengthAdjust="spacingAndGlyphs">Apr</text>
<text x="342.82" y="617.3" font-size="17" font-weight="normal" fill="#4a4e5a" stroke="#4a4e5a" stroke-width="0.7" textLength="30.66" lengthAdjust="spacingAndGlyphs">May</text>
<text x="542.87" y="617.3" font-size="17" font-weight="normal" fill="#4a4e5a" stroke="#4a4e5a" stroke-width="0.7" textLength="28.74" lengthAdjust="spacingAndGlyphs">Jun</text>
<text x="743.87" y="617.3" font-size="17" font-weight="normal" fill="#4a4e5a" stroke="#4a4e5a" stroke-width="0.7" textLength="23.30" lengthAdjust="spacingAndGlyphs">Jul</text>
<text x="930.62" y="617.3" font-size="17" font-weight="normal" fill="#4a4e5a" stroke="#4a4e5a" stroke-width="0.7" textLength="28.36" lengthAdjust="spacingAndGlyphs">Aug</text>
<text x="1137.24" y="617.3" font-size="17" font-weight="normal" fill="#4a4e5a" stroke="#4a4e5a" stroke-width="0.7" textLength="27.66" lengthAdjust="spacingAndGlyphs">Sep</text>
<text x="1336.16" y="617.3" font-size="17" font-weight="normal" fill="#4a4e5a" stroke="#4a4e5a" stroke-width="0.7" textLength="26.01" lengthAdjust="spacingAndGlyphs">Oct</text>
<text x="975.67" y="81.6" font-size="69.5" font-weight="bold" fill="#0c3a50" stroke="#0c3a50" stroke-width="3.6" textLength="45.03" lengthAdjust="spacingAndGlyphs" stroke-linejoin="miter">F</text>
<text x="1022.68" y="81.8" font-size="73.4" font-weight="bold" fill="#2db360" stroke="#2db360" stroke-width="3.8" textLength="54.43" lengthAdjust="spacingAndGlyphs" font-family="Liberation Serif, serif">O</text>
<text x="1085.23" y="81.6" font-size="69.5" font-weight="bold" fill="#0c3a50" stroke="#0c3a50" stroke-width="3.6" textLength="49.38" lengthAdjust="spacingAndGlyphs" stroke-linejoin="miter">R</text>
<text x="1138.34" y="81.6" font-size="69.5" font-weight="bold" fill="#0c3a50" stroke="#0c3a50" stroke-width="3.6" textLength="44.46" lengthAdjust="spacingAndGlyphs" stroke-linejoin="miter">E</text>
<text x="1188.66" y="81.6" font-size="69.5" font-weight="bold" fill="#0c3a50" stroke="#0c3a50" stroke-width="3.6" textLength="48.79" lengthAdjust="spacingAndGlyphs" stroke-linejoin="miter">X</text>
<polygon points="1053.5,51.4 1084.6,51.4 1083,56.1 1052,56.1" fill="#2db360"/>
<polygon points="1051.5,59.6 1082,59.6 1080.4,64.1 1051,64.1" fill="#2db360"/>
<text x="1239.80" y="68.7" font-size="36" font-weight="bold" fill="#0c3a50" stroke="#0c3a50" stroke-width="1.2" textLength="89.37" lengthAdjust="spacingAndGlyphs">.com</text>
<path d="M10.9,651.1H22.8V665.8H16.6V656.7H10.9z" fill="#131722"/>
<circle cx="27.1" cy="654" r="2.8" fill="#131722"/>
<path d="M33.2,651.1H40L34.6,665.8H27.8z" fill="#131722"/>
<text x="45.42" y="666.4" font-size="19.4" font-weight="normal" fill="#131722" stroke="#131722" stroke-width="0.3" textLength="105.28" lengthAdjust="spacingAndGlyphs">TradingView</text>
</svg>
</body></html>
